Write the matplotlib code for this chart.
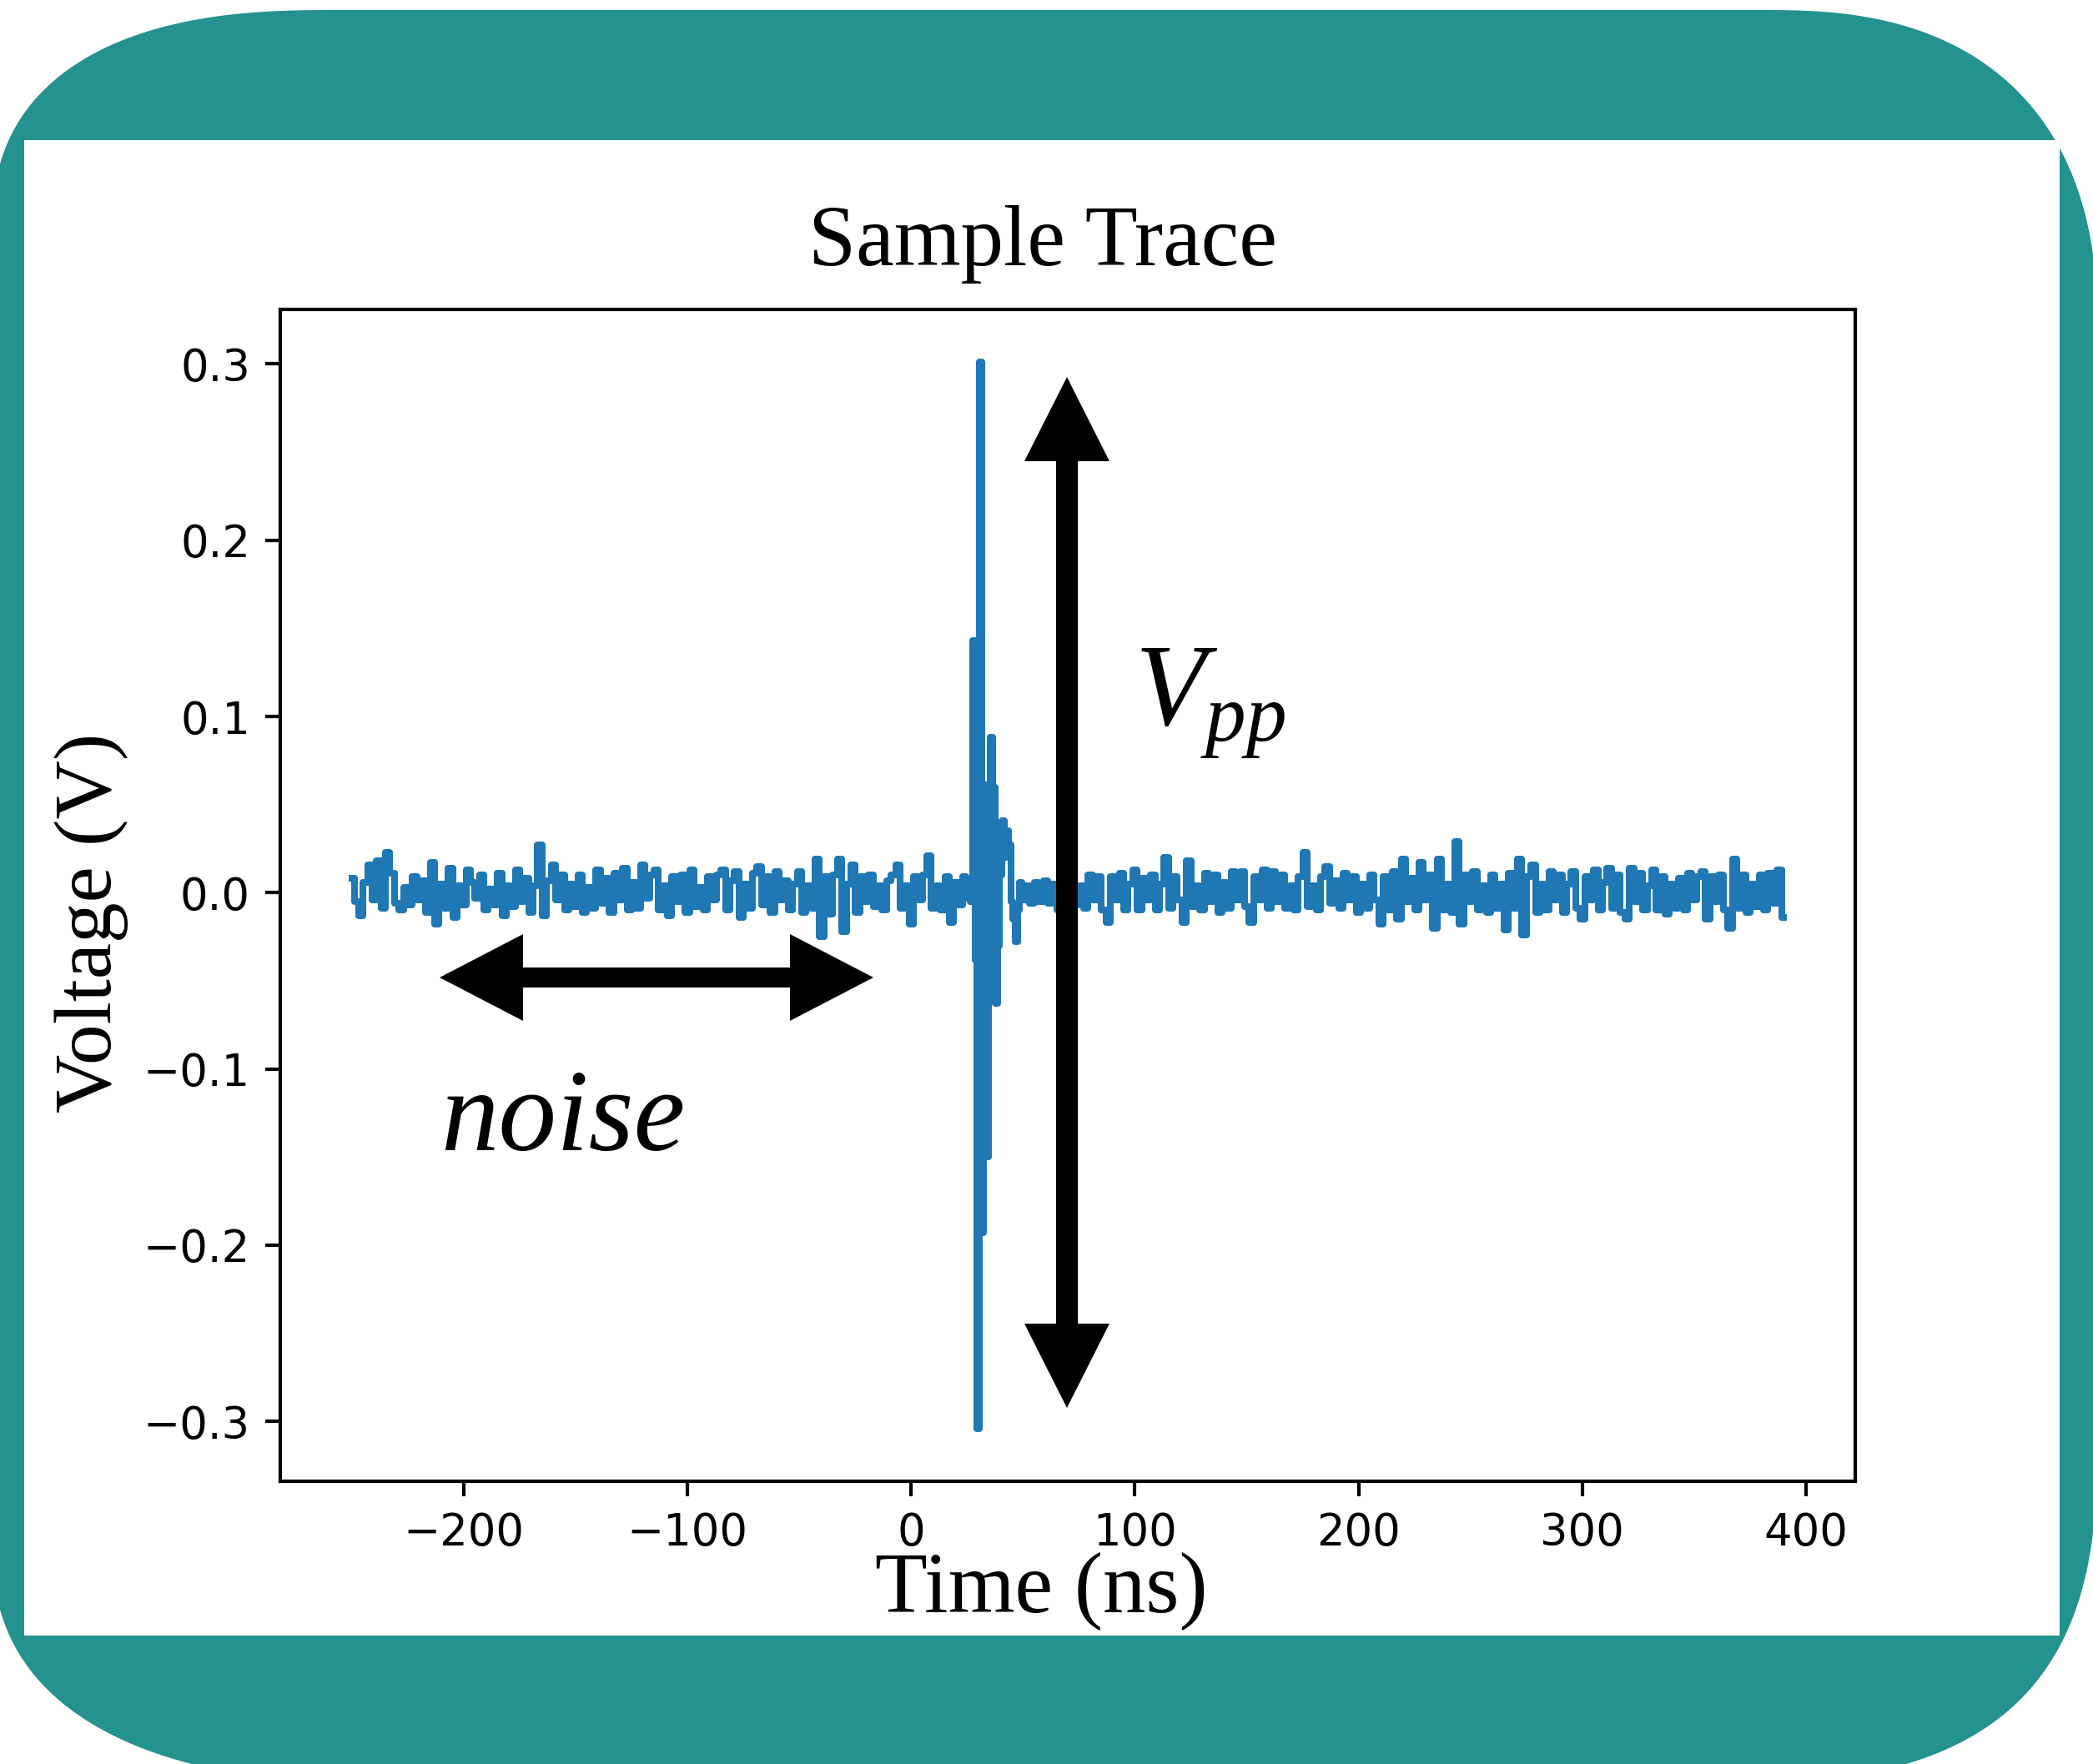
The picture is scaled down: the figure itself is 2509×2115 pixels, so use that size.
#!/usr/bin/env python

import matplotlib
matplotlib.use('Agg')
import matplotlib.pyplot as plt
import numpy as np

from matplotlib.patches import Polygon, Rectangle

# figure size in pixels; the decoration layers use pixel coordinates
W, H = 2509, 2115
TEAL = '#24928f'

# trace before the pulse, 2 ns steps from -250 ns
PRE_START = -250
PRE_V = [0.008, -0.005, -0.013, 0.006, 0.016, -0.004, 0.018, -0.009, 0.023, 0.011,
         -0.006, -0.010, 0.003, -0.007, 0.009, -0.004, 0.007, -0.011, 0.017, -0.018,
         0.005, -0.009, 0.014, -0.014, 0.004, -0.007, 0.013, 0.006, -0.003, 0.010,
         -0.010, 0.002, -0.007, 0.011, -0.013, 0.004, -0.008, 0.013, -0.005, 0.008,
         -0.011, 0.004, 0.027, -0.013, 0.007, 0.016, -0.004, 0.010, -0.010, 0.005,
         -0.008, 0.010, -0.011, 0.003, -0.009, 0.013, -0.006, 0.008, -0.011, 0.011,
         -0.004, 0.014, -0.010, 0.006, -0.009, 0.016, -0.003, 0.010, 0.013, -0.010,
         0.004, -0.013, 0.009, -0.005, 0.010, -0.011, 0.013, -0.008, 0.003, -0.010,
         0.009, -0.004, 0.010, 0.013, -0.010, 0.007, 0.012, -0.014, 0.005, -0.009,
         0.011, 0.015, -0.007, 0.009, -0.011, 0.012, -0.004, 0.007, -0.010, 0.005,
         0.012, -0.011, 0.004, -0.009, 0.019, -0.025, 0.009, -0.012, 0.010, 0.019,
         -0.022, 0.005, 0.016, -0.011, 0.009, -0.005, 0.010, -0.008, 0.004, -0.010,
         0.007, 0.010, 0.016, -0.009, 0.004, -0.018, 0.009, -0.004, 0.010, 0.021,
         -0.009, 0.004, -0.010, 0.009, -0.017, 0.006, -0.007, 0.009]

# the pulse itself, 1 ns steps from 25 ns
PULSE_START = 25
PULSE_V = [-0.003, 0.004, -0.005, 0.143, -0.038, -0.304, 0.301, -0.193, 0.061, -0.150,
           0.030, 0.088, 0.060, -0.063, -0.030, 0.010, 0.041, 0.020, 0.035, 0.027,
           -0.005, -0.015, -0.028, -0.010, 0.006, -0.004]

# trace after the pulse, 2 ns steps from 52 ns
POST_START = 52
POST_V = [0.004, -0.006, 0.006, -0.005, 0.007, -0.006, 0.005, -0.010, 0.006, -0.005,
          0.008, -0.007, 0.004, -0.009, 0.010, -0.004, 0.009, -0.010, -0.017, 0.009,
          -0.004, 0.011, -0.010, 0.005, 0.013, -0.010, 0.008, -0.004, 0.010, -0.010,
          0.005, 0.020, -0.009, 0.009, -0.004, -0.017, 0.018, -0.008, 0.004, -0.010,
          0.011, -0.005, 0.010, -0.011, 0.006, -0.009, 0.012, -0.004, 0.012, -0.008,
          -0.017, 0.009, -0.004, 0.013, -0.009, 0.012, -0.005, 0.010, -0.009, 0.004,
          -0.010, 0.009, 0.023, -0.008, 0.004, -0.010, 0.009, 0.015, -0.006, 0.007,
          -0.009, 0.011, -0.004, 0.009, -0.011, 0.005, -0.009, 0.010, -0.004, -0.018,
          0.009, -0.010, 0.012, -0.015, 0.019, -0.005, 0.008, -0.010, 0.017, -0.004,
          0.010, -0.020, 0.019, -0.010, 0.005, -0.011, 0.029, -0.018, 0.010, -0.005,
          0.012, -0.010, 0.004, -0.011, 0.010, -0.009, 0.005, -0.021, 0.011, -0.009,
          0.019, -0.024, 0.009, 0.016, -0.011, 0.005, -0.010, 0.012, -0.004, 0.010,
          -0.011, 0.005, 0.012, -0.009, -0.015, 0.009, -0.004, 0.013, -0.010, 0.006,
          0.014, -0.009, 0.010, -0.011, -0.015, 0.014, -0.005, 0.011, -0.010, 0.004,
          0.013, -0.010, 0.009, -0.012, 0.005, -0.009, 0.008, -0.010, 0.011, -0.004,
          0.009, 0.012, -0.015, 0.009, -0.005, 0.010, -0.010, -0.020, 0.019, -0.009,
          0.010, -0.011, 0.005, -0.008, 0.010, -0.010, 0.011, -0.006, 0.013, -0.014]


def squircle_corner(cx, cy, rx, ry, n, sx, sy, reverse=False):
    t = np.linspace(0, np.pi / 2, 60)
    if reverse:
        t = t[::-1]
    x = cx + sx * rx * np.cos(t) ** (2.0 / n)
    y = cy + sy * ry * np.sin(t) ** (2.0 / n)
    return np.column_stack([x, y])


def double_arrow(p0, p1, w, hw, hl):
    p0 = np.array(p0, float)
    p1 = np.array(p1, float)
    u = (p1 - p0) / np.hypot(*(p1 - p0))
    n = np.array([-u[1], u[0]])
    a = p0 + u * hl
    b = p1 - u * hl
    pts = [p0, a + n * hw / 2, a + n * w / 2, b + n * w / 2, b + n * hw / 2, p1,
           b - n * hw / 2, b - n * w / 2, a - n * w / 2, a - n * hw / 2]
    return Polygon(pts, closed=True, facecolor='black', edgecolor='none')


def main():
    plt.rcParams['mathtext.fontset'] = 'custom'
    plt.rcParams['mathtext.it'] = 'Liberation Serif:italic'
    plt.rcParams['mathtext.rm'] = 'Liberation Serif'

    fig = plt.figure(figsize=(W / 100, H / 100), dpi=100)

    # background: teal rounded card with a white panel
    bg = fig.add_axes([0, 0, 1, 1], zorder=0)
    bg.set_xlim(0, W)
    bg.set_ylim(H, 0)
    bg.axis('off')
    outline = np.vstack([
        squircle_corner(400, 285, 410, 273, 2.5, -1, -1),
        squircle_corner(2115, 412, 400, 400, 2.5, 1, -1, reverse=True),
        squircle_corner(2015, 1690, 500, 450, 3.0, 1, 1),
        squircle_corner(490, 1840, 500, 300, 2.5, -1, 1, reverse=True),
    ])
    bg.add_patch(Polygon(outline, closed=True, facecolor=TEAL, edgecolor='none'))
    bg.add_patch(Rectangle((29, 168), 2440, 1793, facecolor='white',
                           edgecolor='none'))

    # the trace
    t = np.concatenate([PRE_START + 2 * np.arange(len(PRE_V)),
                        PULSE_START + np.arange(len(PULSE_V)),
                        POST_START + 2 * np.arange(len(POST_V))])
    v = np.concatenate([PRE_V, PULSE_V, POST_V])

    ax = fig.add_axes([336 / W, 1 - 1776 / H, (2224 - 336) / W, (1776 - 371) / H],
                      zorder=1)
    ax.plot(t, v, color='#1f77b4', lw=5.8, drawstyle='steps-mid')
    ax.set_yticks([-0.3, -0.2, -0.1, 0.0, 0.1, 0.2, 0.3])
    ax.set_xticks([-200, -100, 0, 100, 200, 300, 400])
    ax.set_xlim(-282, 422)
    ax.set_ylim(-0.334, 0.331)
    ax.tick_params(labelsize=38, length=13, width=3, pad=13)
    for s in ax.spines.values():
        s.set_linewidth(3)

    # annotations on top, in pixel coordinates
    ov = fig.add_axes([0, 0, 1, 1], zorder=2)
    ov.set_xlim(0, W)
    ov.set_ylim(H, 0)
    ov.axis('off')
    ov.patch.set_alpha(0)
    ov.add_patch(double_arrow((1279, 452), (1279, 1688), 26, 102, 101))
    ov.add_patch(double_arrow((527, 1172), (1047, 1172), 24, 104, 100))

    serif = 'Liberation Serif'
    ov.text(1250, 318, 'Sample Trace', family=serif, fontsize=74,
            ha='center', va='baseline')
    ov.text(1248, 1933, 'Time (ns)', family=serif, fontsize=74,
            ha='center', va='baseline')
    ov.text(110, 1106, 'Voltage (V)', family=serif, fontsize=70,
            rotation=90, ha='center', va='center')
    ov.text(528, 1379, 'noise', family=serif, fontsize=100, style='italic',
            ha='left', va='baseline')
    ov.text(1360, 870, r'$V_{pp}$', fontsize=100, ha='left', va='baseline')

    fig.savefig('out.png', dpi=100)


if __name__ == '__main__':
    main()
